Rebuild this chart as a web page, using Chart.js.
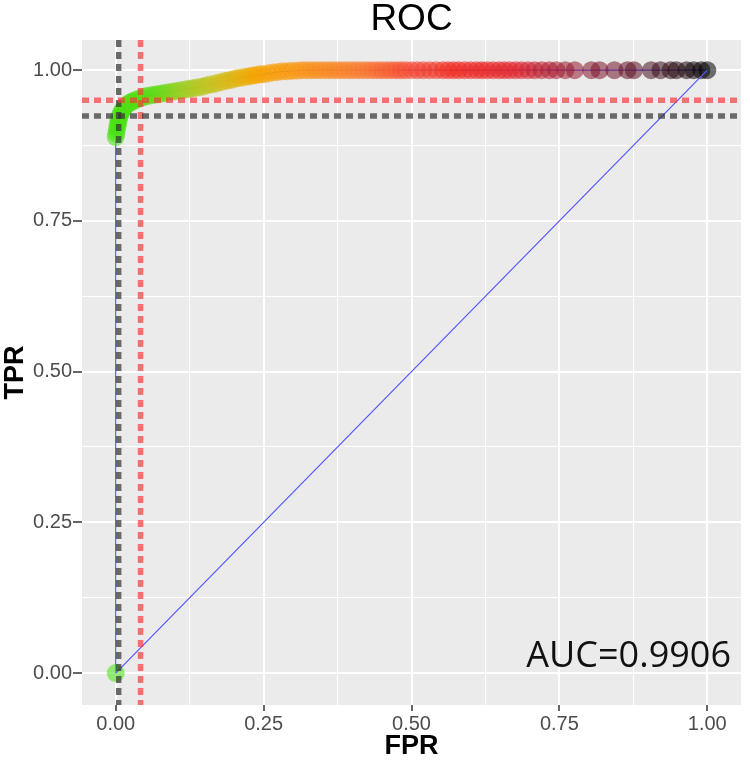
<!DOCTYPE html>
<html>
<head>
<meta charset="utf-8">
<script src="https://cdn.jsdelivr.net/npm/chart.js@4.4.1/dist/chart.umd.min.js"></script>
<style>
  html, body { margin: 0; padding: 0; background: #fff; }
  #wrap { width: 750px; height: 762px; }
</style>
</head>
<body>
<div id="wrap"><canvas id="rocChart" width="750" height="762"></canvas></div>
<script>
// ROC curve points
const fpr = [
  0, 0, 0.001, 0.002, 0.003, 0.004, 0.005, 0.006, 0.008, 0.010,
  0.012, 0.015, 0.018, 0.022, 0.026, 0.030, 0.035, 0.040, 0.046, 0.052,
  0.058, 0.064, 0.070, 0.076, 0.082, 0.088, 0.094, 0.100, 0.106, 0.112,
  0.118, 0.124, 0.130, 0.136, 0.142, 0.148, 0.154, 0.160, 0.166, 0.172,
  0.178, 0.184, 0.190, 0.196, 0.202, 0.208, 0.214, 0.220, 0.226, 0.232,
  0.238, 0.244, 0.250, 0.258, 0.266, 0.274, 0.282, 0.290, 0.298, 0.306,
  0.314, 0.322, 0.330, 0.338, 0.346, 0.354, 0.362, 0.370, 0.378, 0.386,
  0.394, 0.402, 0.410, 0.418, 0.426, 0.434, 0.442, 0.450, 0.458, 0.466,
  0.474, 0.482, 0.490, 0.500, 0.510, 0.520, 0.531, 0.542, 0.553, 0.562,
  0.571, 0.580, 0.590, 0.600, 0.610, 0.619, 0.628, 0.638, 0.648, 0.657,
  0.666, 0.676, 0.686, 0.697, 0.708, 0.720, 0.733, 0.745, 0.760, 0.776,
  0.804, 0.818, 0.843, 0.865, 0.876, 0.905, 0.921, 0.938, 0.948, 0.965,
  0.977, 0.990, 1.000
];
const tpr = [
  0, 0.889, 0.895, 0.901, 0.907, 0.912, 0.917, 0.922, 0.927, 0.931,
  0.935, 0.939, 0.942, 0.945, 0.947, 0.949, 0.951, 0.953, 0.955, 0.957,
  0.958, 0.959, 0.960, 0.961, 0.962, 0.963, 0.964, 0.965, 0.966, 0.967,
  0.968, 0.969, 0.970, 0.971, 0.972, 0.973, 0.975, 0.976, 0.977, 0.979,
  0.980, 0.982, 0.983, 0.984, 0.986, 0.987, 0.988, 0.989, 0.990, 0.991,
  0.992, 0.993, 0.993, 0.995, 0.996, 0.997, 0.998, 0.998, 0.999, 0.999,
  1, 1, 1, 1, 1, 1, 1, 1, 1, 1,
  1, 1, 1, 1, 1, 1, 1, 1, 1, 1,
  1, 1, 1, 1, 1, 1, 1, 1, 1, 1,
  1, 1, 1, 1, 1, 1, 1, 1, 1, 1,
  1, 1, 1, 1, 1, 1, 1, 1, 1, 1,
  1, 1, 1, 1, 1, 1, 1, 1, 1, 1,
  1, 1, 1
];
const chanceFpr = [0, 1];
const chanceTpr = [0, 1];

// cut-off reference lines (first grey, second red)
const cutoffFpr = [0.005, 0.042];
const cutoffTpr = [0.924, 0.950];

const majorTicks = [0, 0.25, 0.5, 0.75, 1];
const minorTicks = [0.125, 0.375, 0.625, 0.875];
const aucLabel = 'AUC=0.9906';

const FONT = "'Liberation Sans', Arial, sans-serif";
const cutoffColors = ['rgba(50,50,50,0.7)', 'rgba(245,60,60,0.7)'];

// colour ramp along the curve: green -> orange -> red -> black
const ramp = [
  [0.00, [70, 225, 15]],
  [0.07, [90, 220, 20]],
  [0.12, [160, 205, 35]],
  [0.18, [210, 190, 30]],
  [0.24, [245, 165, 0]],
  [0.32, [250, 145, 20]],
  [0.42, [250, 120, 45]],
  [0.50, [245, 70, 50]],
  [0.58, [240, 40, 30]],
  [0.68, [225, 35, 45]],
  [0.75, [160, 25, 45]],
  [0.85, [110, 20, 40]],
  [0.92, [60, 15, 25]],
  [1.00, [0, 0, 0]]
];
function rampColor(t) {
  let i = 1;
  while (i < ramp.length - 1 && t > ramp[i][0]) i++;
  const [t0, c0] = ramp[i - 1];
  const [t1, c1] = ramp[i];
  const f = Math.min(1, Math.max(0, (t - t0) / (t1 - t0)));
  const c = c0.map((v, k) => Math.round(v + (c1[k] - v) * f));
  return `rgba(${c[0]},${c[1]},${c[2]},0.55)`;
}

const points = fpr.map((x, i) => ({ x: x, y: tpr[i] }));
const chance = chanceFpr.map((x, i) => ({ x: x, y: chanceTpr[i] }));

const isMajor = v => majorTicks.includes(v);

const ggPanel = {
  id: 'ggPanel',
  beforeDraw(chart) {
    const { ctx, chartArea: a } = chart;
    ctx.save();
    ctx.fillStyle = '#EBEBEB';
    ctx.fillRect(a.left, a.top, a.right - a.left, a.bottom - a.top);
    ctx.restore();
  },
  afterDatasetsDraw(chart) {
    const { ctx, chartArea: a, scales } = chart;
    ctx.save();
    ctx.beginPath();
    ctx.rect(a.left, a.top, a.right - a.left, a.bottom - a.top);
    ctx.clip();
    ctx.lineWidth = 5.5;
    ctx.setLineDash([7, 5]);
    cutoffFpr.forEach((v, i) => {
      const px = scales.x.getPixelForValue(v);
      ctx.strokeStyle = cutoffColors[i];
      ctx.beginPath();
      ctx.moveTo(px, a.top);
      ctx.lineTo(px, a.bottom);
      ctx.stroke();
    });
    cutoffTpr.forEach((v, i) => {
      const py = scales.y.getPixelForValue(v);
      ctx.strokeStyle = cutoffColors[i];
      ctx.beginPath();
      ctx.moveTo(a.left, py);
      ctx.lineTo(a.right, py);
      ctx.stroke();
    });
    ctx.restore();
  },
  afterDraw(chart) {
    const { ctx, chartArea: a } = chart;
    ctx.save();
    ctx.fillStyle = '#000';
    ctx.font = `37px ${FONT}`;
    ctx.textAlign = 'center';
    ctx.textBaseline = 'alphabetic';
    ctx.fillText('ROC', (a.left + a.right) / 2, 30);
    ctx.font = "36px 'Open Sans', sans-serif";
    ctx.textAlign = 'right';
    ctx.fillStyle = '#111';
    ctx.fillText(aucLabel, a.right - 10, 667);
    ctx.restore();
  }
};

function axisOptions(minV, maxV, titleText, tickLen) {
  return {
    type: 'linear',
    min: minV,
    max: maxV,
    afterBuildTicks: scale => {
      scale.ticks = majorTicks.concat(minorTicks).sort((a, b) => a - b).map(v => ({ value: v }));
    },
    ticks: {
      autoSkip: false,
      maxRotation: 0,
      minRotation: 0,
      padding: 1,
      color: '#4D4D4D',
      font: { family: FONT, size: 20 },
      callback: v => isMajor(v) ? v.toFixed(2) : ''
    },
    grid: {
      color: '#FFFFFF',
      lineWidth: c => (c.tick && isMajor(c.tick.value)) ? 2 : 1,
      tickColor: c => (c.tick && isMajor(c.tick.value)) ? '#333333' : 'rgba(0,0,0,0)',
      tickLength: tickLen,
      tickWidth: 1.5
    },
    border: { display: false },
    title: {
      display: true,
      text: titleText,
      color: '#000',
      font: { family: FONT, size: 27, weight: 'bold', lineHeight: 1 },
      padding: { top: 2, bottom: 1.5 }
    }
  };
}

const xAxis = axisOptions(-0.057, 1.057, 'FPR', 6);
xAxis.afterFit = scale => { scale.height = 57; };
const yAxis = axisOptions(-0.053, 1.05, 'TPR', 9);
yAxis.afterFit = scale => { scale.width = 82; };

new Chart(document.getElementById('rocChart'), {
  type: 'scatter',
  data: {
    datasets: [
      {
        label: 'ROC',
        data: points,
        showLine: false,
        pointRadius: 9,
        pointBorderWidth: 0,
        pointBackgroundColor: c => rampColor(c.raw ? c.raw.x : 0),
        order: 1
      },
      {
        label: 'path',
        data: points,
        showLine: true,
        pointRadius: 0,
        borderColor: 'rgb(85,85,255)',
        borderWidth: 1.2,
        order: 2
      },
      {
        label: 'chance',
        data: chance,
        showLine: true,
        pointRadius: 0,
        borderColor: 'rgb(85,85,255)',
        borderWidth: 1.2,
        order: 0
      }
    ]
  },
  options: {
    responsive: false,
    animation: false,
    events: [],
    layout: { padding: { top: 40, right: 2, left: 0, bottom: 0 } },
    plugins: {
      legend: { display: false },
      tooltip: { enabled: false },
      title: { display: false }
    },
    scales: { x: xAxis, y: yAxis }
  },
  plugins: [ggPanel]
});
</script>
</body>
</html>
